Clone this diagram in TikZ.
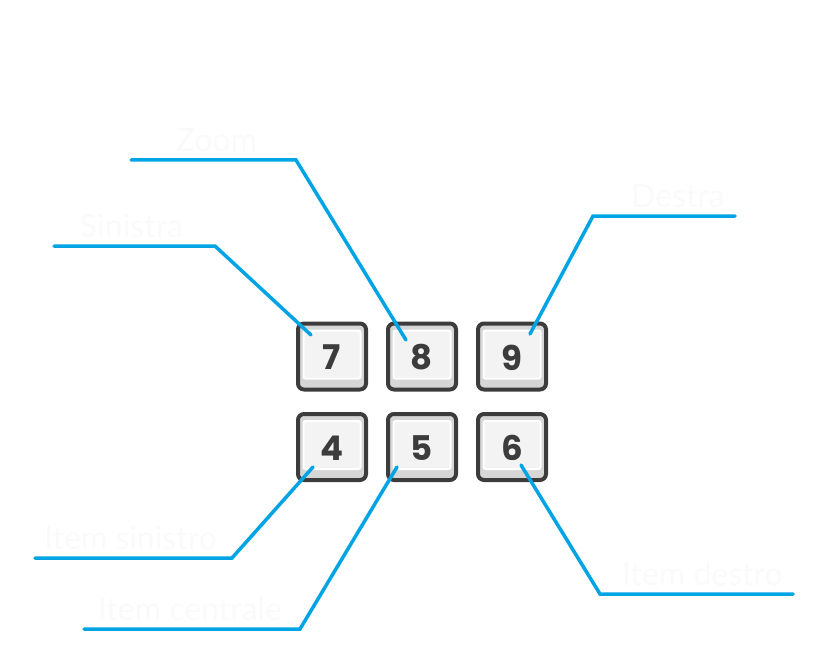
\documentclass[tikz,border=0pt]{standalone}
\usepackage{fontspec}
\usetikzlibrary{calc}
\newfontfamily\keyfont{Poppins}
\newfontfamily\tagfont{Lato}
\definecolor{keyline}{HTML}{3C3C3C}
\definecolor{keyside}{HTML}{D6D6D6}
\definecolor{keyface}{HTML}{F3F3F3}
\definecolor{leader}{HTML}{00A4E4}
\definecolor{faint}{HTML}{FAFAFA}
\tikzset{
  keycap/.style={draw=keyline,line width=4pt,fill=keyside,rounded corners=6pt,
    minimum width=68pt,minimum height=66pt,inner sep=0pt},
  keytop/.style={draw=white,line width=2pt,fill=keyface,rounded corners=2pt,
    minimum width=57pt,minimum height=48pt,inner sep=0pt},
  keydigit/.style={text=keyline,font=\keyfont\bfseries\fontsize{34}{34}\selectfont},
  leaderline/.style={draw=leader,line width=3.5pt,line cap=round},
  tag/.style={text=faint,font=\tagfont\fontsize{32}{32}\selectfont,anchor=south,inner sep=0pt}
}
\begin{document}
\begin{tikzpicture}[x=1pt,y=-1pt]
\useasboundingbox (0,0) rectangle (830,650);
% keys
\foreach \k/\x/\y in {7/332/356.5,8/422/356.5,9/512/356.5,4/332/447,5/422/447,6/512/447} {
  \node[keycap] (k\k) at (\x,\y) {};
  \node[keytop] (f\k) at (\x,\y-2) {};
  \node[keydigit] (d\k) at (\x,\y+1) {\k};
}
% free ends of the leaders
\coordinate (e7) at (54,246);  \coordinate (b7) at (215,246);
\coordinate (e8) at (131,160); \coordinate (b8) at (296,160);
\coordinate (e9) at (735,216); \coordinate (b9) at (593,216);
\coordinate (e4) at (35,558);  \coordinate (b4) at (232,558);
\coordinate (e5) at (84,629);  \coordinate (b5) at (300,629);
\coordinate (e6) at (793,594); \coordinate (b6) at (600,594);
% faint captions
\node[tag] (t7) at ($(e7)!0.5!(b7)+(-3,-8)$) {Sinistra};
\node[tag] (t8) at ($(e8)!0.5!(b8)+(3,-8)$) {Zoom};
\node[tag] (t9) at ($(e9)!0.5!(b9)+(14,-8)$) {Destra};
\node[tag] (t4) at ($(e4)!0.5!(b4)+(-3,-8)$) {Item sinistro};
\node[tag] (t5) at ($(e5)!0.5!(b5)+(-2,-8)$) {Item centrale};
\node[tag] (t6) at ($(e6)!0.5!(b6)+(6,-8)$) {Item destro};
% leaders
\draw[leaderline] (e7) -- (b7) -- ($(k7)+(-21,-21.5)$);
\draw[leaderline] (e8) -- (b8) -- ($(k8)+(-16,-16.5)$);
\draw[leaderline] (e9) -- (b9) -- ($(k9)+(18,-22.5)$);
\draw[leaderline] (e4) -- (b4) -- ($(k4)+(-19,20)$);
\draw[leaderline] (e5) -- (b5) -- ($(k5)+(-25,20)$);
\draw[leaderline] (e6) -- (b6) -- ($(k6)+(9,18)$);
\end{tikzpicture}
\end{document}
